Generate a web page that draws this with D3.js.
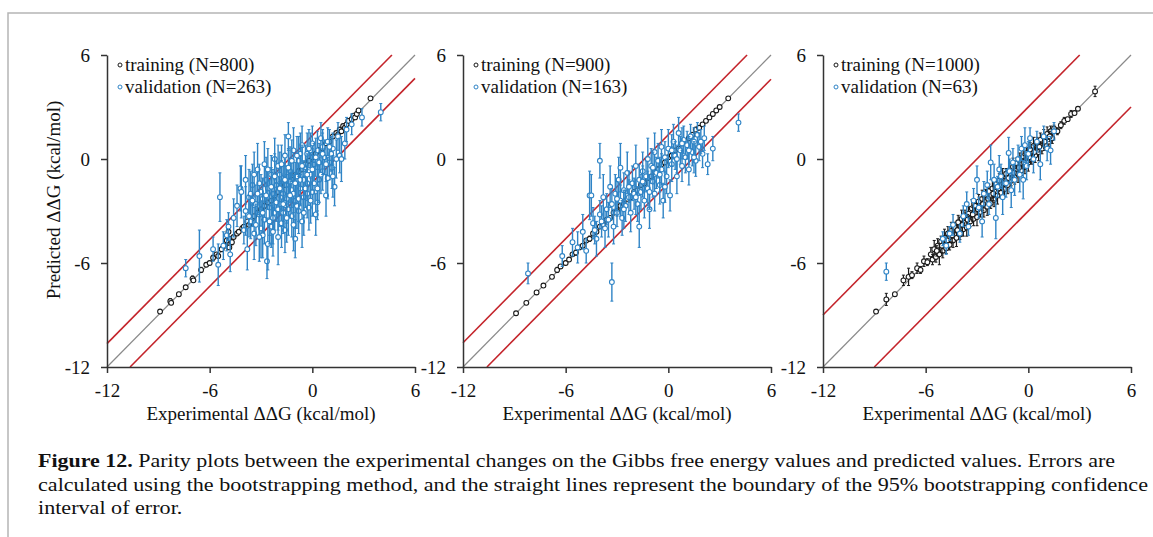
<!DOCTYPE html>
<html>
<head>
<meta charset="utf-8">
<script src="https://cdn.jsdelivr.net/npm/d3@7"></script>
<style>
  body { margin: 0; background: #fff; }
  svg { display: block; }
</style>
</head>
<body>
<div class="canvas"></div>
<script>
// axis domain and ticks (kcal/mol)
var domain = [-12, 6];
var tickValues = [-12, -6, 0, 6];

// legend labels and band offsets (95% bootstrap boundary) per panel
var trainLabels = ["training (N=800)", "training (N=900)", "training (N=1000)"];
var validLabels = ["validation (N=263)", "validation (N=163)", "validation (N=63)"];
var bandOffsets = [1.35, 1.4, 3.0];

// [experimental, predicted, error]
var train1 = [
  [-8.9,-8.8,0.1],[-8.3,-8.2,0.15],[-8.25,-8.3,0.1],[-7.8,-7.8,0.1],[-7.4,-7.4,0.1],[-7.0,-6.9,0.15],
  [-6.95,-7.0,0.1],[-6.5,-6.4,0.15],[-6.2,-6.1,0.1],[-6.0,-6.0,0.1],[-5.8,-5.7,0.15],[-5.6,-5.5,0.1],
  [-5.5,-5.6,0.1],[-5.3,-5.2,0.15],[-5.1,-5.0,0.1],[-5.0,-4.7,0.2],[-4.9,-4.2,0.3],[-4.85,-5.1,0.1],
  [-4.8,-4.6,0.1],[-4.7,-4.8,0.15],[-4.6,-4.5,0.1],[-4.4,-4.3,0.1],[-4.3,-4.2,0.1],[-4.1,-4.0,0.15],
  [-4.0,-3.9,0.1],[-3.8,-3.6,0.1],[-3.7,-3.8,0.1],[-3.5,-3.4,0.15],[-3.4,-3.3,0.1],[-3.2,-3.1,0.1],
  [-3.0,-2.9,0.1],[-2.8,-2.7,0.15],[-2.6,-2.5,0.1],[-2.4,-2.4,0.1],[-2.2,-2.1,0.15],[-2.0,-1.9,0.1],
  [-1.8,-1.8,0.1],[-1.6,-1.5,0.15],[-1.4,-1.3,0.1],[-1.2,-1.2,0.1],[-1.0,-0.9,0.1],[-0.8,-0.7,0.15],
  [-0.6,-0.6,0.1],[-0.4,-0.3,0.1],[-0.2,-0.1,0.1],[0.0,0.1,0.1],[0.2,0.3,0.1],[0.4,0.5,0.15],
  [0.6,0.6,0.1],[0.8,0.9,0.1],[1.0,1.0,0.1],[1.2,1.3,0.1],[1.4,1.5,0.1],[1.5,1.4,0.1],
  [1.6,1.7,0.1],[1.7,1.6,0.1],[1.8,1.9,0.1],[1.9,1.8,0.1],[2.0,2.0,0.1],[2.1,2.2,0.1],
  [2.3,2.3,0.1],[2.4,2.5,0.1],[2.5,2.4,0.1],[2.6,2.6,0.1],[2.7,2.8,0.1],[3.4,3.5,0.1]
];
var valid1 = [
  [-7.4,-6.3,0.5],[-6.6,-5.6,1.5],[-5.8,-5.2,0.7],[-5.5,-6.1,1.2],[-5.4,-2.2,1.4],[-5.2,-5.0,0.8],
  [-5.0,-4.4,0.9],[-4.9,-3.9,0.8],[-4.8,-5.5,1.0],[-4.6,-3.4,1.1],[-4.4,-2.7,1.2],[-4.2,-1.7,1.3],
  [-4.15,-1.9,1.5],[-4.0,-4.1,0.8],[-3.9,-3.0,1.4],[-3.8,-5.2,1.2],[-3.7,-2.2,1.6],[-3.6,-3.6,1.0],
  [-3.5,-1.5,1.2],[-3.4,-4.3,1.5],[-3.3,-2.6,1.1],[-3.2,-0.6,1.5],[-3.1,-3.2,1.3],[-3.0,-1.9,1.0],
  [-3.0,-4.0,1.7],[-2.9,-2.3,1.2],[-2.8,-3.5,1.4],[-2.7,-1.2,1.3],[-2.65,-5.9,1.0],[-2.6,-4.9,1.5],
  [-2.5,-2.8,1.6],[-2.4,-0.9,1.1],[-2.4,-3.9,1.2],[-2.3,-2.0,1.4],[-2.2,-3.1,1.0],[-2.1,-1.5,1.5],
  [-2.0,-4.5,1.6],[-2.0,-0.4,1.2],[-1.9,-2.6,1.3],[-1.8,-1.1,1.0],[-1.8,-3.7,1.4],[-1.7,-2.0,1.6],
  [-1.6,0.2,1.2],[-1.6,-4.1,1.3],[-1.5,-1.5,1.1],[-1.4,1.3,0.8],[-1.4,-2.9,1.5],[-1.3,-0.7,1.4],
  [-1.2,-3.3,1.2],[-1.2,-1.8,1.0],[-1.1,0.5,1.3],[-1.0,-2.4,1.6],[-1.0,-4.6,1.1],[-0.9,-1.0,1.2],
  [-0.8,-0.1,1.4],[-0.8,-3.0,1.3],[-0.7,-1.7,1.0],[-0.6,-3.6,1.5],[-0.6,0.8,1.1],[-0.5,-2.2,1.2],
  [-0.4,-0.6,1.4],[-0.3,-1.4,1.0],[-0.3,0.3,1.2],[-0.2,-2.8,1.3],[-0.1,-0.9,1.1],[0.0,0.9,1.0],
  [0.0,-1.9,1.4],[0.1,-0.3,1.2],[0.2,-3.2,1.2],[0.3,-2.5,1.0],[0.3,0.5,1.1],[0.4,-1.2,1.3],
  [0.5,1.2,0.9],[0.6,-0.7,1.1],[0.7,0.1,1.0],[0.8,-2.1,1.2],[0.9,1.0,0.8],[1.0,-0.2,1.0],
  [1.15,-0.5,1.2],[1.2,0.6,0.9],[1.3,-1.6,1.1],[1.5,1.3,0.8],[1.6,0.2,1.0],[1.7,0.0,1.3],
  [1.9,0.9,0.9],[2.0,1.7,0.7],[2.3,2.0,0.6],[2.9,2.4,0.5],[4.0,2.7,0.5],
  [-3.6,-2.0,1.3],[-3.3,-3.8,1.2],[-3.1,-1.4,1.1],[-2.9,-4.4,1.3],[-2.6,-1.7,1.2],[-2.3,-3.4,1.5],
  [-2.1,-2.5,1.1],[-1.9,-0.9,1.3],[-1.7,-3.1,1.2],[-1.5,-2.3,1.4],[-1.3,-1.3,1.2],[-1.1,-2.0,1.1],
  [-0.9,-2.7,1.3],[-0.7,0.3,1.2],[-0.5,-1.2,1.1],[-0.3,-2.0,1.4],[-0.1,0.5,1.0],[0.1,-1.4,1.2],
  [0.4,-0.2,1.1],[0.6,0.7,1.0],[0.9,-1.1,1.2],[1.1,0.3,1.0],[-2.8,-0.3,1.3],[-2.2,0.0,1.2],
  [-3.9,-1.2,1.4],[-3.7,-3.3,1.2],[-3.5,-2.4,1.5],[-3.4,-0.9,1.3],[-3.2,-2.0,1.2],[-3.1,-4.5,1.4],
  [-2.9,-3.1,1.1],[-2.7,-2.1,1.5],[-2.6,-0.6,1.2],[-2.5,-3.6,1.3],[-2.4,-1.6,1.1],[-2.3,-4.2,1.4],
  [-2.2,-1.0,1.3],[-2.0,-2.9,1.2],[-1.9,-1.7,1.5],[-1.8,-0.3,1.1],[-1.7,-2.6,1.3],[-1.6,-1.2,1.2],
  [-1.5,-3.4,1.4],[-1.4,-0.5,1.1],[-1.3,-2.1,1.3],[-1.2,-0.1,1.2],[-1.1,-3.8,1.5],[-1.0,-1.4,1.2],
  [-0.9,0.2,1.1],[-0.8,-2.3,1.3],[-0.7,-1.2,1.4],[-0.6,-0.4,1.2],[-0.5,-3.1,1.3],[-0.4,-1.7,1.1],
  [-0.3,-0.9,1.2],[-0.2,0.6,1.1],[-0.1,-2.4,1.3],[0.0,-0.6,1.2],[0.2,0.1,1.1],[0.3,-1.7,1.3],
  [0.5,-0.9,1.1],[0.6,0.3,1.2],[0.8,-0.3,1.0],[1.0,0.7,1.0],[1.2,-1.0,1.2],[1.4,0.0,1.1]
];

var train2 = [
  [-8.9,-8.9,0.1],[-8.3,-8.3,0.1],[-7.7,-7.7,0.1],[-7.3,-7.3,0.1],[-6.8,-6.8,0.1],[-6.5,-6.4,0.15],
  [-6.3,-6.2,0.1],[-6.0,-6.0,0.1],[-5.8,-5.8,0.1],[-5.6,-5.5,0.1],[-5.4,-5.4,0.15],[-5.2,-5.1,0.1],
  [-5.0,-5.0,0.1],[-4.8,-4.7,0.1],[-4.6,-4.6,0.15],[-4.4,-4.3,0.1],[-4.2,-4.2,0.1],[-4.0,-3.9,0.1],
  [-3.8,-3.8,0.15],[-3.6,-3.5,0.1],[-3.4,-3.4,0.1],[-3.2,-3.1,0.1],[-3.0,-3.0,0.15],[-2.8,-2.7,0.1],
  [-2.6,-2.6,0.1],[-2.4,-2.3,0.1],[-2.2,-2.2,0.15],[-2.0,-1.9,0.1],[-1.8,-1.8,0.1],[-1.6,-1.5,0.1],
  [-1.4,-1.4,0.15],[-1.2,-1.1,0.1],[-1.0,-1.0,0.1],[-0.8,-0.7,0.1],[-0.6,-0.6,0.15],[-0.4,-0.3,0.1],
  [-0.2,-0.2,0.1],[0.0,0.1,0.1],[0.2,0.2,0.1],[0.4,0.5,0.1],[0.6,0.6,0.1],[0.8,0.9,0.1],
  [1.0,1.0,0.1],[1.2,1.2,0.1],[1.4,1.4,0.1],[1.6,1.7,0.1],[1.8,1.8,0.1],[2.0,2.0,0.1],
  [2.2,2.2,0.1],[2.4,2.4,0.1],[2.6,2.6,0.1],[2.8,2.8,0.1],[3.0,3.0,0.1],[3.5,3.5,0.1]
];
var valid2 = [
  [-8.2,-6.6,0.6],[-6.2,-5.6,0.6],[-5.6,-4.8,0.8],[-5.3,-5.1,0.9],[-5.0,-4.2,1.0],[-4.8,-5.3,0.7],
  [-4.6,-2.1,1.4],[-4.5,-2.1,1.2],[-4.4,-3.7,0.9],[-4.2,-4.6,1.0],[-4.0,-0.1,1.0],[-4.0,-3.2,0.8],
  [-3.8,-2.2,1.3],[-3.7,-4.0,1.1],[-3.6,-2.9,0.9],[-3.5,-3.5,1.0],[-3.4,-1.6,1.2],[-3.3,-7.1,1.1],
  [-3.3,-2.6,0.9],[-3.2,-3.9,1.0],[-3.1,-2.0,1.1],[-3.0,-3.1,0.8],[-2.9,-1.2,1.3],[-2.8,-0.5,1.4],
  [-2.8,-2.4,0.9],[-2.7,-3.4,1.0],[-2.6,-1.8,1.0],[-2.5,-2.7,0.9],[-2.4,-0.8,1.2],[-2.3,-2.2,1.0],
  [-2.2,-3.1,1.1],[-2.1,-1.4,1.0],[-2.0,-2.0,0.9],[-1.9,-0.4,1.2],[-1.8,-2.6,1.0],[-1.7,-3.9,1.2],
  [-1.7,-1.2,0.9],[-1.6,-1.9,1.0],[-1.5,-0.7,1.1],[-1.4,-2.4,1.0],[-1.3,-1.0,0.9],[-1.2,0.0,1.2],
  [-1.2,-1.7,1.0],[-1.1,-2.9,1.1],[-1.0,-0.4,1.0],[-0.9,-1.3,0.9],[-0.8,0.4,1.1],[-0.8,-2.0,1.0],
  [-0.7,-0.8,0.9],[-0.6,-0.1,1.0],[-0.5,-1.5,1.1],[-0.4,0.7,1.0],[-0.4,-0.6,0.9],[-0.3,-2.4,1.0],
  [-0.2,0.1,0.9],[-0.1,-1.0,1.0],[0.0,0.6,1.1],[0.1,-2.1,0.9],[0.2,-0.3,1.0],[0.3,1.0,1.0],
  [0.4,0.2,0.8],[0.5,-1.0,1.0],[0.6,1.5,0.9],[0.7,0.5,0.8],[0.8,-0.4,0.9],[0.9,1.1,0.8],
  [1.0,0.1,0.9],[1.1,0.8,0.8],[1.2,-0.6,0.9],[1.3,1.3,0.7],[1.4,0.4,0.8],[1.5,1.0,0.8],
  [1.6,-0.1,0.9],[1.7,1.4,0.7],[1.8,0.7,0.8],[2.0,0.3,0.8],[2.1,1.2,0.7],[2.3,-0.3,0.6],
  [2.6,0.6,0.7],[4.1,2.1,0.5],
  [-3.0,-2.3,1.0],[-2.6,-2.9,1.1],[-2.3,-1.6,0.9],[-1.9,-2.2,1.0],[-1.5,-1.3,0.9],[-1.1,-1.9,1.0],
  [-0.9,-0.5,0.9],[-0.5,-0.9,1.0],[-0.2,-1.6,0.9],[0.2,0.5,0.9],[0.5,0.0,0.8],[0.8,0.9,0.9],
  [1.2,0.5,0.8],[1.5,0.1,0.9],[1.9,1.0,0.7],[-3.9,-3.6,0.9],[-4.3,-4.1,0.8]
];

var train3 = [
  [-8.9,-8.8,0.1],[-8.3,-8.1,0.35],[-7.8,-7.8,0.1],[-7.3,-7.0,0.3],[-7.0,-6.8,0.5],[-6.8,-6.7,0.2],
  [-6.5,-6.3,0.3],[-6.3,-6.4,0.2],[-6.1,-5.9,0.3],[-5.9,-5.95,0.2],[-5.7,-5.5,0.4],[-5.6,-5.8,0.3],
  [-5.5,-5.2,0.5],[-5.4,-5.65,0.3],[-5.3,-5.0,0.4],[-5.2,-5.5,0.6],[-5.1,-4.75,0.3],[-5.0,-5.3,0.4],
  [-4.9,-4.55,0.5],[-4.8,-5.15,0.3],[-4.7,-4.3,0.4],[-4.6,-4.95,0.3],[-4.5,-4.15,0.5],[-4.4,-4.7,0.4],
  [-4.3,-3.95,0.3],[-4.2,-4.55,0.5],[-4.1,-3.65,0.4],[-4.0,-4.35,0.3],[-3.9,-3.45,0.5],[-3.8,-4.05,0.4],
  [-3.7,-3.25,0.3],[-3.6,-3.95,0.5],[-3.5,-3.15,0.4],[-3.4,-3.6,0.3],[-3.3,-2.85,0.5],[-3.2,-3.45,0.4],
  [-3.1,-2.7,0.3],[-3.0,-3.35,0.5],[-2.9,-2.45,0.4],[-2.8,-3.05,0.3],[-2.7,-2.3,0.5],[-2.6,-2.95,0.4],
  [-2.5,-2.05,0.3],[-2.4,-2.75,0.5],[-2.3,-1.85,0.4],[-2.2,-2.55,0.3],[-2.1,-1.7,0.5],[-2.0,-2.35,0.4],
  [-1.9,-1.45,0.3],[-1.8,-2.1,0.5],[-1.7,-1.25,0.4],[-1.6,-1.95,0.3],[-1.5,-1.05,0.5],[-1.4,-1.75,0.4],
  [-1.3,-0.85,0.3],[-1.2,-1.5,0.5],[-1.1,-0.65,0.4],[-1.0,-1.25,0.3],[-0.9,-0.45,0.5],[-0.8,-1.05,0.4],
  [-0.7,-0.25,0.3],[-0.6,-0.85,0.5],[-0.5,-0.05,0.4],[-0.4,-0.65,0.3],[-0.3,0.15,0.5],[-0.2,-0.45,0.4],
  [-0.1,0.35,0.3],[0.0,-0.2,0.5],[0.1,0.55,0.4],[0.2,0.0,0.3],[0.3,0.75,0.5],[0.4,0.2,0.4],
  [0.5,0.95,0.3],[0.6,0.4,0.5],[0.7,1.1,0.4],[0.8,0.6,0.3],[0.9,1.3,0.4],[1.0,0.8,0.3],
  [1.1,1.45,0.4],[1.2,1.0,0.3],[1.3,1.6,0.3],[1.4,1.2,0.3],[1.5,1.75,0.2],[1.7,1.6,0.2],
  [1.9,1.95,0.2],[2.1,2.2,0.2],[2.3,2.3,0.1],[2.5,2.6,0.2],[2.7,2.65,0.1],[2.9,2.9,0.1],
  [3.9,3.9,0.3],
  [-5.35,-5.3,0.3],[-5.05,-5.0,0.4],[-4.75,-4.7,0.3],[-4.45,-4.4,0.4],[-4.15,-4.1,0.3],[-3.85,-3.8,0.4],
  [-3.55,-3.5,0.3],[-3.25,-3.2,0.4],[-2.95,-2.9,0.3],[-2.65,-2.6,0.4],[-2.35,-2.3,0.3],[-2.05,-2.0,0.4],
  [-1.75,-1.7,0.3],[-1.45,-1.4,0.4],[-1.15,-1.1,0.3],[-0.85,-0.8,0.4],[-0.55,-0.5,0.3],[-0.25,-0.2,0.4],
  [0.05,0.1,0.3],[0.35,0.4,0.4],[0.65,0.7,0.3],[0.95,1.0,0.4],[1.25,1.3,0.3]
];
var valid3 = [
  [-8.3,-6.5,0.5],[-5.0,-4.6,0.4],[-4.8,-5.0,0.5],[-4.6,-4.3,0.4],[-4.4,-3.8,0.6],[-4.0,-4.3,0.5],
  [-3.8,-3.3,0.6],[-3.6,-2.6,0.7],[-3.5,-3.9,0.5],[-3.2,-2.4,0.7],[-3.0,-1.2,0.8],[-2.9,-2.8,0.6],
  [-2.7,-3.6,0.9],[-2.6,-2.0,0.7],[-2.4,-1.5,0.8],[-2.3,-2.6,0.6],[-2.2,-0.2,1.0],[-2.0,-1.2,0.9],
  [-1.9,-3.4,1.2],[-1.8,-1.6,0.6],[-1.7,-0.6,0.8],[-1.6,-1.0,0.7],[-1.5,-2.2,1.0],[-1.3,-1.4,0.8],
  [-1.15,0.35,0.9],[-1.1,-0.7,0.7],[-1.0,-1.8,1.0],[-0.9,-0.2,0.8],[-0.8,-1.2,0.9],[-0.6,0.0,0.8],
  [-0.5,-0.9,1.0],[-0.4,0.6,0.7],[-0.3,-1.2,1.1],[-0.2,0.8,1.0],[-0.1,-0.4,0.8],[0.0,0.3,0.7],
  [0.1,1.2,0.6],[0.3,0.0,0.8],[0.5,1.0,0.6],[0.7,-0.3,0.9],[0.9,1.3,0.6],[1.1,0.6,0.7],
  [1.3,0.5,0.8],[1.5,1.6,0.5]
];

var trainSets = [train1, train2, train3];
var validSets = [valid1, valid2, valid3];

var W = 1153, H = 537;
var panelLeft = [107, 463, 823],
    panelW = 308,
    plotTop = 55, plotBottom = 367;

var blue = "#2f84c6", black = "#1a1a1a", red = "#c4242b";
var serif = "'Liberation Serif', 'Times New Roman', serif";

var svg = d3.select(".canvas")
    .append("svg")
    .attr("width", W)
    .attr("height", H)
    .style("background-color", "#fff");

// frame (top and left edge)
svg.append("path")
    .attr("d", `M8,${H} V13 H${W}`)
    .attr("fill", "none")
    .attr("stroke", "#b5b5b5")
    .attr("stroke-width", 1.5);

var y = d3.scaleLinear().domain(domain).range([plotBottom, plotTop]);

trainSets.forEach(function(train, i) {
    var x = d3.scaleLinear().domain(domain).range([panelLeft[i], panelLeft[i] + panelW]);
    var g = svg.append("g");
    var off = bandOffsets[i];

    // parity line
    g.append("line")
        .attr("x1", x(domain[0])).attr("y1", y(domain[0]))
        .attr("x2", x(domain[1])).attr("y2", y(domain[1]))
        .attr("stroke", "#8a8a8a")
        .attr("stroke-width", 1.2);

    // confidence boundaries
    var bands = [
        [[domain[0], domain[0] + off], [domain[1] - off, domain[1]]],
        [[domain[0] + off, domain[0]], [domain[1], domain[1] - off]]
    ];
    g.selectAll(".band")
      .data(bands)
      .enter()
      .append("line")
        .attr("x1", d => x(d[0][0])).attr("y1", d => y(d[0][1]))
        .attr("x2", d => x(d[1][0])).attr("y2", d => y(d[1][1]))
        .attr("stroke", red)
        .attr("stroke-width", 1.6);

    // points with error bars
    function drawSet(data, color, bw) {
        var pt = g.append("g").selectAll("g")
          .data(data)
          .enter()
          .append("g");
        pt.append("line")
            .attr("x1", d => x(d[0])).attr("x2", d => x(d[0]))
            .attr("y1", d => y(d[1] - d[2])).attr("y2", d => y(d[1] + d[2]))
            .attr("stroke", color)
            .attr("stroke-width", bw);
        pt.append("path")
            .attr("d", d => `M${x(d[0]) - 1.5},${y(d[1] + d[2])}h3M${x(d[0]) - 1.5},${y(d[1] - d[2])}h3`)
            .attr("stroke", color)
            .attr("stroke-width", 1);
        pt.append("circle")
            .attr("cx", d => x(d[0]))
            .attr("cy", d => y(d[1]))
            .attr("r", 2.4)
            .attr("fill", "#fff")
            .attr("stroke", color)
            .attr("stroke-width", 1.1);
    }
    drawSet(train, black, 1.2);
    drawSet(validSets[i], blue, 1.4);

    // axes (plain hyphen for negatives, as in the figure)
    var fmt = d => String(d);
    var yAxis = g.append("g")
        .attr("transform", `translate(${panelLeft[i]},0)`)
        .call(d3.axisLeft(y).tickValues(tickValues).tickFormat(fmt).tickSize(6).tickSizeOuter(0).tickPadding(11));
    var xAxis = g.append("g")
        .attr("transform", `translate(0,${plotBottom})`)
        .call(d3.axisBottom(x).tickValues(tickValues).tickFormat(fmt).tickSize(6).tickSizeOuter(0).tickPadding(11));
    [xAxis, yAxis].forEach(function(a) {
        a.selectAll("path, line").attr("stroke", "#333").attr("stroke-width", 1.5);
        a.selectAll("text")
            .attr("fill", "#111")
            .style("font-family", serif)
            .style("font-size", "19px");
    });

    // x axis title
    g.append("text")
        .attr("x", panelLeft[i] + panelW / 2)
        .attr("y", 420)
        .attr("text-anchor", "middle")
        .style("font-family", serif)
        .style("font-size", "19px")
        .attr("fill", "#111")
        .text("Experimental ΔΔG (kcal/mol)");

    // legend
    var leg = [[trainLabels[i], black], [validLabels[i], blue]];
    leg.forEach(function(l, k) {
        g.append("circle")
            .attr("cx", panelLeft[i] + 13)
            .attr("cy", 65 + k * 22)
            .attr("r", 2)
            .attr("fill", "#fff")
            .attr("stroke", l[1])
            .attr("stroke-width", 1);
        g.append("text")
            .attr("x", panelLeft[i] + 18)
            .attr("y", 71 + k * 22)
            .style("font-family", serif)
            .style("font-size", "19px")
            .attr("fill", "#111")
            .text(l[0]);
    });
});

// y axis title (first panel only)
svg.append("text")
    .attr("transform", "translate(60,200) rotate(-90)")
    .attr("text-anchor", "middle")
    .style("font-family", serif)
    .style("font-size", "19px")
    .attr("fill", "#111")
    .text("Predicted ΔΔG (kcal/mol)");

// caption
var capX = 38;
var cap1 = svg.append("text")
    .attr("x", capX).attr("y", 467)
    .style("font-family", serif).style("font-size", "18px").attr("fill", "#111");
cap1.append("tspan").style("font-weight", "bold").text("Figure 12.");
cap1.append("tspan").text(" Parity plots between the experimental changes on the Gibbs free energy values and predicted values. Errors are");
cap1.attr("textLength", 1077).attr("lengthAdjust", "spacingAndGlyphs");

var cap2 = svg.append("text")
    .attr("x", capX).attr("y", 491)
    .style("font-family", serif).style("font-size", "18px").attr("fill", "#111")
    .text("calculated using the bootstrapping method, and the straight lines represent the boundary of the 95% bootstrapping confidence");
var nat2 = cap2.node().getComputedTextLength();
var squeeze = 1110 / nat2;
cap2.attr("textLength", 1110).attr("lengthAdjust", "spacingAndGlyphs");

var cap3 = svg.append("text")
    .attr("x", capX).attr("y", 514)
    .style("font-family", serif).style("font-size", "18px").attr("fill", "#111")
    .text("interval of error.");
cap3.attr("textLength", cap3.node().getComputedTextLength() * squeeze).attr("lengthAdjust", "spacingAndGlyphs");
</script>
</body>
</html>
